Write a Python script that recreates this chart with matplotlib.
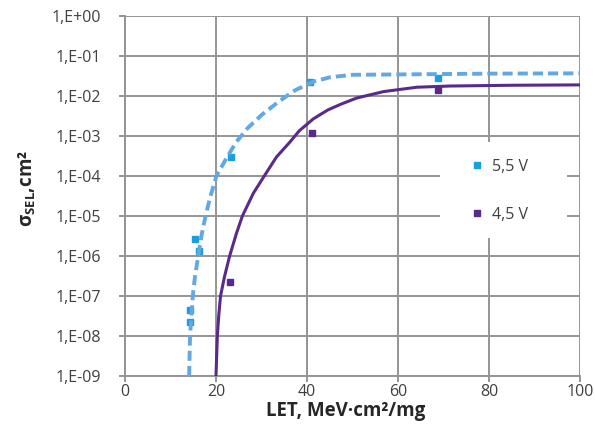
import numpy as np
import matplotlib
matplotlib.use('Agg')
import matplotlib.pyplot as plt
from matplotlib.patches import Rectangle
from matplotlib.ticker import FixedLocator, FixedFormatter

plt.rcParams['font.family'] = ['Open Sans', 'DejaVu Sans']
plt.rcParams['mathtext.fontset'] = 'custom'
plt.rcParams['mathtext.rm'] = 'Open Sans'
plt.rcParams['mathtext.bf'] = 'Open Sans:bold'

# measured points
let_55 = [14.3, 14.4, 15.4, 16.3, 23.2, 40.7, 68.7]
sig_55 = [4.5e-8, 2.3e-8, 2.6e-6, 1.3e-6, 3.0e-4, 2.3e-2, 2.75e-2]
let_45 = [23.1, 41.2, 68.7]
sig_45 = [2.3e-7, 1.2e-3, 1.4e-2]

# fit curves
fit_let_55 = [14.1, 14.3, 14.9, 15.4, 16.1, 16.8, 17.7, 18.8, 20.1, 22.3, 24.5,
              27.0, 30.2, 33.9, 37.3, 41.4, 45.1, 50.0, 60.0, 80.0, 100.0]
fit_sig_55 = [1e-9, 1e-8, 1e-7, 3.16e-7, 1e-6, 3.16e-6, 1e-5, 3.16e-5, 1e-4,
              2.8e-4, 7.2e-4, 1.6e-3, 3.5e-3, 7.4e-3, 1.38e-2, 2.3e-2, 2.95e-2,
              3.4e-2, 3.47e-2, 3.63e-2, 3.7e-2]
fit_let_45 = [20.0, 20.3, 20.6, 21.0, 21.9, 23.0, 24.5, 25.8, 28.2, 30.6, 33.3,
              36.3, 38.3, 41.4, 44.6, 47.5, 50.9, 56.8, 64.1, 71.4, 85.0, 100.0]
fit_sig_45 = [1e-9, 1e-8, 3.16e-8, 1e-7, 3.16e-7, 1e-6, 3.7e-6, 1e-5, 3.7e-5,
              1e-4, 3.0e-4, 7.2e-4, 1.35e-3, 2.7e-3, 4.5e-3, 6.3e-3, 8.9e-3,
              1.29e-2, 1.66e-2, 1.78e-2, 1.86e-2, 1.9e-2]

x_ticks = [0, 20, 40, 60, 80, 100]
y_ticks = [1e0, 1e-1, 1e-2, 1e-3, 1e-4, 1e-5, 1e-6, 1e-7, 1e-8, 1e-9]
y_labels = ['1,E+00', '1,E-01', '1,E-02', '1,E-03', '1,E-04',
            '1,E-05', '1,E-06', '1,E-07', '1,E-08', '1,E-09']

blue_pt = '#1a9ee0'
blue_ln = '#62a8e2'
purple = '#5a2a8a'
grid_c = '#959595'
text_c = '#404040'

fig = plt.figure(figsize=(5.95, 4.28), dpi=100, facecolor='white')
ax = fig.add_axes([0.210, 0.1215, 0.765, 0.841])

ax.plot(let_55, sig_55, 's', color=blue_pt, markersize=3.8, zorder=3, label='5,5 V')
ax.plot(let_45, sig_45, 's', color=purple, markersize=4.3, zorder=3, label='4,5 V')
ax.plot(fit_let_55, fit_sig_55, color=blue_ln, linewidth=2.8,
        dashes=(2.6, 1.3), zorder=4)
ax.plot(fit_let_45, fit_sig_45, color=purple, linewidth=2.2,
        solid_joinstyle='round', zorder=4)

ax.set_yscale('log')
ax.set_xlim(0, 100)
ax.set_ylim(1e-9, 1)
ax.xaxis.set_major_locator(FixedLocator(x_ticks))
ax.yaxis.set_major_locator(FixedLocator(y_ticks))
ax.yaxis.set_major_formatter(FixedFormatter(y_labels))
ax.yaxis.set_minor_locator(FixedLocator([]))

ax.set_axisbelow(True)
ax.grid(True, color=grid_c, linewidth=1.4)
for side in ['top', 'right']:
    ax.spines[side].set_visible(False)
for side in ['left', 'bottom']:
    ax.spines[side].set_color(grid_c)
    ax.spines[side].set_linewidth(1.4)
ax.tick_params(axis='y', length=4.5, width=1.4, color=grid_c, pad=13,
               labelsize=11.5, labelcolor=text_c)
ax.tick_params(axis='x', length=4, width=1.4, color=grid_c, pad=1.5,
               labelsize=11.5, labelcolor=text_c)

ax.set_xlabel('LET, MeV·cm²/mg', fontsize=13.5, fontweight='bold', color='#262626')
ax.xaxis.set_label_coords(0.485, -0.07)
ax.set_ylabel(r'σ$_{\mathbf{SEL}}$,cm²', fontsize=13.5, fontweight='bold',
              color='#262626')
ax.yaxis.set_label_coords(-0.19, 0.522)

# white legend area
ax.add_patch(Rectangle((0.692, 0.383), 0.279, 0.267, transform=ax.transAxes,
                       facecolor='white', edgecolor='none', zorder=1.5))
leg = ax.legend(loc='center', bbox_to_anchor=(0.823, 0.515), frameon=False,
                fontsize=11.5, labelspacing=2.0, handlelength=0.8,
                handletextpad=0.55, labelcolor=text_c)

fig.savefig('out.png', dpi=100, facecolor='white')
